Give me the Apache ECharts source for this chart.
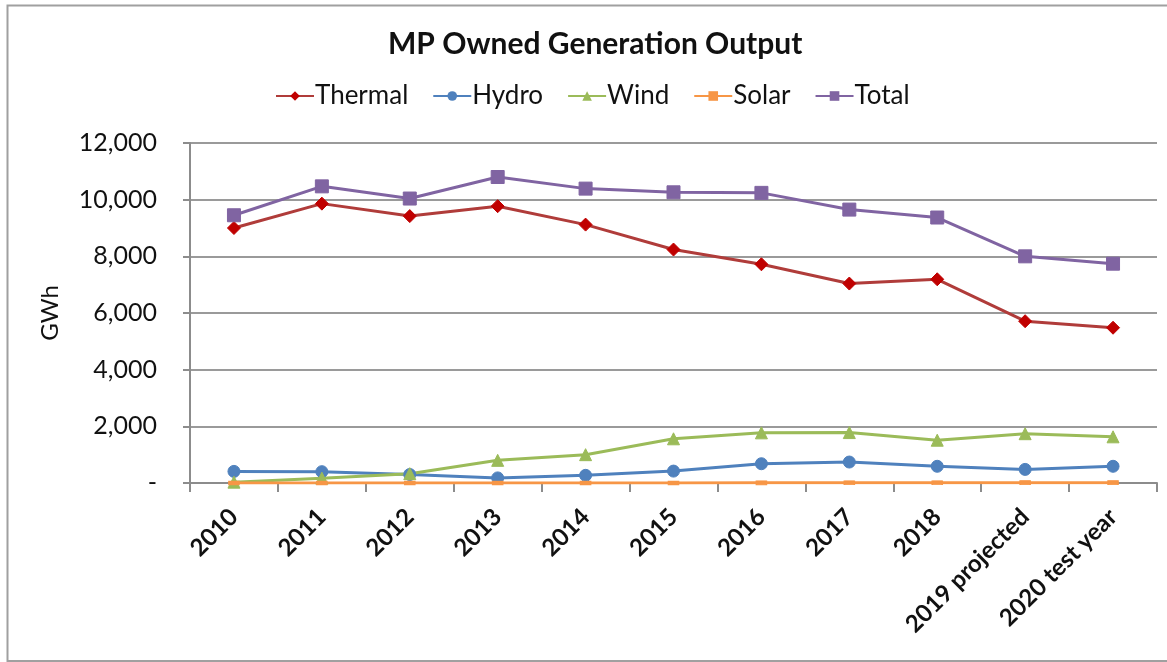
<!DOCTYPE html>
<html>
<head>
<meta charset="utf-8">
<script src="https://cdn.jsdelivr.net/npm/echarts@6/dist/echarts.min.js"></script>
<style>
  html, body { margin: 0; padding: 0; background: #fff; }
  #chart { width: 1167px; height: 662px; }
</style>
</head>
<body>
<div id="chart"></div>
<script>
// Annual output by source, GWh
const categories = ['2010', '2011', '2012', '2013', '2014', '2015', '2016', '2017', '2018', '2019 projected', '2020 test year'];
const thermal = [9000, 9860, 9420, 9770, 9120, 8240, 7720, 7040, 7190, 5710, 5480];
const hydro   = [410, 400, 300, 180, 270, 420, 680, 740, 590, 480, 590];
const wind    = [30, 170, 330, 800, 1000, 1560, 1770, 1780, 1510, 1740, 1630];
const solar   = [0, 0, 0, 0, 0, 0, 5, 8, 10, 12, 12];
const total   = [9450, 10470, 10040, 10800, 10390, 10260, 10240, 9650, 9370, 8000, 7740];

const FONT = 'Lato';
const chart = echarts.init(document.getElementById('chart'));

function lineSeries(name, data, color, markColor, symbol, size) {
  return {
    name: name,
    type: 'line',
    data: data,
    symbol: symbol,
    symbolSize: size,
    showAllSymbol: true,
    lineStyle: { color: color, width: 3 },
    itemStyle: { color: markColor, borderColor: markColor },
    emphasis: { disabled: true },
    animation: false
  };
}

chart.setOption({
  backgroundColor: '#ffffff',
  animation: false,
  title: {
    text: 'MP Owned Generation Output',
    left: 383,
    top: 24,
    textStyle: { fontFamily: FONT, fontWeight: 'bold', fontSize: 30, color: '#111' }
  },
  legend: {
    left: 270,
    top: 78,
    itemWidth: 38,
    itemHeight: 12,
    itemGap: 24,
    textStyle: { fontFamily: FONT, fontSize: 26, color: '#111', padding: [0, 0, 0, -4] },
    data: ['Thermal', 'Hydro', 'Wind', 'Solar', 'Total']
  },
  grid: { left: 190, right: 10, top: 143, bottom: 179 },
  xAxis: {
    type: 'category',
    data: categories,
    boundaryGap: true,
    axisLine: { lineStyle: { color: '#8c8c8c', width: 2 } },
    axisTick: { show: true, length: 9, lineStyle: { color: '#8c8c8c', width: 2 } },
    axisLabel: {
      rotate: 45,
      margin: 30,
      interval: 0,
      fontFamily: FONT,
      fontWeight: 'bold',
      fontSize: 24,
      color: '#111'
    }
  },
  yAxis: {
    type: 'value',
    min: 0,
    max: 12000,
    interval: 2000,
    name: 'GWh',
    nameLocation: 'middle',
    nameGap: 128,
    nameRotate: 90,
    nameTextStyle: { fontFamily: FONT, fontSize: 24, color: '#111' },
    axisLine: { show: true, lineStyle: { color: '#8c8c8c', width: 2 } },
    axisTick: { show: true, length: 7, lineStyle: { color: '#8c8c8c', width: 2 } },
    splitLine: { lineStyle: { color: '#9a9a9a', width: 2 } },
    axisLabel: {
      margin: 33,
      fontFamily: FONT,
      fontSize: 25,
      color: '#111',
      formatter: function (v) { return v === 0 ? '-' : v.toLocaleString('en-US'); }
    }
  },
  graphic: [{
    type: 'rect',
    shape: { x: 7.5, y: 5.5, width: 1170, height: 655.5 },
    style: { fill: 'none', stroke: '#a0a0a0', lineWidth: 2 },
    silent: true,
    z: -1
  }],
  series: [
    lineSeries('Thermal', thermal, '#b03c3a', '#c00000', 'diamond', 13),
    lineSeries('Hydro', hydro, '#4f81bd', '#4f81bd', 'circle', 12),
    lineSeries('Wind', wind, '#9bbb59', '#9bbb59', 'triangle', 12),
    lineSeries('Solar', solar, '#f79646', '#f79646', 'rect', [10, 4]),
    lineSeries('Total', total, '#8064a2', '#8064a2', 'rect', 13)
  ]
});
</script>
</body>
</html>
